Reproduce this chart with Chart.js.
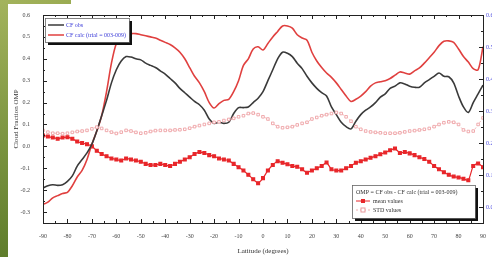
<!DOCTYPE html>
<html>
<head>
<meta charset="utf-8">
<script src="https://cdn.jsdelivr.net/npm/chart.js@4/dist/chart.umd.min.js"></script>
<style>
    html, body { margin: 0; padding: 0; background: #fff; overflow: hidden; width: 492px; height: 257px; }
    .franja-izq { position: absolute; left: 0; top: 0; width: 8px; height: 257px; background: linear-gradient(#a3b35c, #7b9440 55%, #5f7d2c); }
    .franja-sup { position: absolute; left: 0; top: 0; width: 71px; height: 4px; background: linear-gradient(90deg, #a3b35c, #9aab52); }
    #lienzo { position: absolute; left: 0; top: 0; width: 492px; height: 257px; }
</style>
</head>
<body>
<div class="franja-izq"></div>
<div class="franja-sup"></div>
<div id="lienzo"><canvas id="grafica"></canvas></div>
<script>
// latitudes cada 2 grados
const latitudes = [];
for (let lat = -90; lat <= 90; lat += 2) latitudes.push(lat);

const cfObs = [
    -0.19, -0.18, -0.175, -0.178, -0.175, -0.16, -0.135, -0.09, -0.06, -0.03,
    0.01, 0.07, 0.14, 0.21, 0.29, 0.35, 0.39, 0.41, 0.408, 0.40,
    0.395, 0.38, 0.37, 0.36, 0.345, 0.33, 0.31, 0.29, 0.265, 0.245,
    0.225, 0.205, 0.19, 0.165, 0.125, 0.105, 0.11, 0.105, 0.11, 0.15,
    0.177, 0.177, 0.18, 0.20, 0.22, 0.25, 0.30, 0.35, 0.40, 0.43,
    0.425, 0.41, 0.38, 0.355, 0.32, 0.29, 0.265, 0.245, 0.23, 0.18,
    0.145, 0.11, 0.09, 0.08, 0.115, 0.145, 0.165, 0.18, 0.20, 0.225,
    0.24, 0.265, 0.275, 0.29, 0.285, 0.275, 0.27, 0.27, 0.29, 0.305,
    0.32, 0.335, 0.32, 0.318, 0.29, 0.23, 0.18, 0.155, 0.20, 0.24,
    0.28
];
const cfCalc = [
    -0.265, -0.255, -0.235, -0.225, -0.215, -0.21, -0.18, -0.14, -0.11, -0.06,
    0.01, 0.07, 0.14, 0.25, 0.38, 0.47, 0.50, 0.51, 0.515, 0.515,
    0.51, 0.505, 0.50, 0.495, 0.485, 0.475, 0.465, 0.45, 0.43, 0.40,
    0.36, 0.32, 0.29, 0.25, 0.20, 0.175, 0.195, 0.21, 0.215, 0.25,
    0.30, 0.37, 0.40, 0.445, 0.455, 0.44, 0.47, 0.50, 0.525, 0.55,
    0.55, 0.54, 0.51, 0.495, 0.485, 0.43, 0.39, 0.36, 0.335, 0.315,
    0.29, 0.26, 0.23, 0.205, 0.215, 0.23, 0.25, 0.275, 0.29, 0.295,
    0.30, 0.31, 0.325, 0.34, 0.335, 0.33, 0.345, 0.358, 0.38, 0.405,
    0.43, 0.46, 0.48, 0.482, 0.475, 0.445, 0.41, 0.385, 0.355, 0.35,
    0.455
];
const ompMedia = [
    0.05, 0.045, 0.04, 0.035, 0.04, 0.042, 0.035, 0.022, 0.015, 0.01,
    0.0, -0.02, -0.035, -0.045, -0.055, -0.06, -0.065, -0.055, -0.06, -0.065,
    -0.07, -0.08, -0.085, -0.085, -0.08, -0.085, -0.09, -0.08, -0.07, -0.06,
    -0.05, -0.035, -0.026, -0.03, -0.04, -0.045, -0.055, -0.06, -0.065, -0.08,
    -0.095, -0.11, -0.13, -0.15, -0.168, -0.145, -0.11, -0.085, -0.068, -0.075,
    -0.082, -0.09, -0.093, -0.105, -0.12, -0.11, -0.10, -0.09, -0.074, -0.105,
    -0.11, -0.11, -0.10, -0.09, -0.075, -0.068, -0.06, -0.052, -0.045, -0.036,
    -0.028, -0.018, -0.01, -0.03, -0.026, -0.032, -0.04, -0.05, -0.058, -0.07,
    -0.09, -0.105, -0.118, -0.13, -0.138, -0.142, -0.148, -0.155, -0.09, -0.078,
    -0.095
];
const ompStd = [
    0.073, 0.065, 0.06, 0.06, 0.058, 0.06, 0.064, 0.068, 0.07, 0.073,
    0.08, 0.088, 0.082, 0.073, 0.065, 0.059, 0.065, 0.073, 0.07, 0.064,
    0.06, 0.062, 0.068, 0.072, 0.073, 0.073, 0.073, 0.075, 0.076, 0.078,
    0.083, 0.09, 0.095, 0.10, 0.105, 0.11, 0.112, 0.118, 0.123, 0.128,
    0.135, 0.14, 0.15, 0.152, 0.145, 0.135, 0.125, 0.105, 0.09, 0.085,
    0.087, 0.09, 0.098, 0.105, 0.11, 0.125, 0.132, 0.14, 0.145, 0.15,
    0.155, 0.15, 0.135, 0.115, 0.09, 0.078, 0.07, 0.066, 0.064, 0.062,
    0.06, 0.06, 0.06, 0.062, 0.066, 0.07, 0.072, 0.075, 0.078, 0.082,
    0.09, 0.10, 0.108, 0.112, 0.11, 0.10, 0.075, 0.068, 0.07, 0.10,
    0.13
];

const ticksLatitud = [-90, -80, -70, -60, -50, -40, -30, -20, -10, 0, 10, 20, 30, 40, 50, 60, 70, 80, 90];
const ticksIzq = [0.6, 0.5, 0.4, 0.3, 0.2, 0.1, 0.0, -0.1, -0.2, -0.3];
const ticksDer = [0.6, 0.5, 0.4, 0.3, 0.2, 0.1, 0.0];

const fuente = "'Liberation Serif', 'DejaVu Serif', serif";
const colores = {
    obs: "#3a3a3a",
    calc: "#e0403f",
    media: "#e8262a",
    std: "#f0aeb0",
    azul: "#4a4ae0"
};

function puntos(serie) {
    return latitudes.map((lat, i) => ({ x: lat, y: serie[i] }));
}

function fijarTicks(valores) {
    return scale => { scale.ticks = valores.map(v => ({ value: v })); };
}

// marcas hacia adentro, marco del area y etiquetas del eje derecho (cortadas por el borde)
const marcoEjes = {
    id: "marcoEjes",
    afterDatasetsDraw(chart) {
        const ctx = chart.ctx;
        const area = chart.chartArea;
        const sx = chart.scales.x, sy = chart.scales.y, sy2 = chart.scales.y2;
        ctx.save();
        ctx.strokeStyle = "#222";
        ctx.lineWidth = 1;
        ctx.strokeRect(area.left + 0.5, area.top + 0.5, area.right - area.left, area.bottom - area.top);
        ctx.beginPath();
        for (let i = 0; i < ticksLatitud.length; i++) {
            const px = Math.round(sx.getPixelForValue(ticksLatitud[i])) + 0.5;
            ctx.moveTo(px, area.bottom); ctx.lineTo(px, area.bottom - 4);
            ctx.moveTo(px, area.top); ctx.lineTo(px, area.top + 4);
            if (i < ticksLatitud.length - 1) {
                const pm = Math.round(sx.getPixelForValue((ticksLatitud[i] + ticksLatitud[i + 1]) / 2)) + 0.5;
                ctx.moveTo(pm, area.bottom); ctx.lineTo(pm, area.bottom - 2);
                ctx.moveTo(pm, area.top); ctx.lineTo(pm, area.top + 2);
            }
        }
        [[sy, ticksIzq, area.left, 1], [sy2, ticksDer, area.right, -1]].forEach(([escala, valores, borde, dir]) => {
            for (let i = 0; i < valores.length; i++) {
                const py = Math.round(escala.getPixelForValue(valores[i])) + 0.5;
                ctx.moveTo(borde, py); ctx.lineTo(borde + 4 * dir, py);
                if (i < valores.length - 1) {
                    const pm = Math.round(escala.getPixelForValue((valores[i] + valores[i + 1]) / 2)) + 0.5;
                    ctx.moveTo(borde, pm); ctx.lineTo(borde + 2 * dir, pm);
                }
            }
        });
        ctx.stroke();

        ctx.fillStyle = colores.azul;
        ctx.font = `6px ${fuente}`;
        ctx.textAlign = "left";
        ctx.textBaseline = "middle";
        ticksDer.forEach(v => {
            ctx.fillText(v.toFixed(1), area.right + 3, sy2.getPixelForValue(v));
        });
        ctx.restore();
    }
};

function cajaLeyenda(ctx, x, y, w, h) {
    ctx.fillStyle = "#111";
    ctx.fillRect(x + 3, y + 3, w, h);
    ctx.fillStyle = "#fff";
    ctx.fillRect(x, y, w, h);
    ctx.strokeStyle = "#666";
    ctx.lineWidth = 0.8;
    ctx.strokeRect(x + 0.5, y + 0.5, w, h);
}

const leyendas = {
    id: "leyendas",
    afterDraw(chart) {
        const ctx = chart.ctx;
        const area = chart.chartArea;
        ctx.save();
        ctx.font = `6px ${fuente}`;
        ctx.textBaseline = "middle";

        // leyenda superior izquierda
        let x = area.left + 2, y = area.top + 3;
        cajaLeyenda(ctx, x, y, 84, 24);
        ctx.lineWidth = 1.5;
        ctx.strokeStyle = colores.obs;
        ctx.beginPath(); ctx.moveTo(x + 3, y + 7); ctx.lineTo(x + 19, y + 7); ctx.stroke();
        ctx.strokeStyle = colores.calc;
        ctx.beginPath(); ctx.moveTo(x + 3, y + 17); ctx.lineTo(x + 19, y + 17); ctx.stroke();
        ctx.fillStyle = "#3a3ad8";
        ctx.fillText("CF obs", x + 21, y + 7);
        ctx.fillText("CF calc (trial = 003-009)", x + 21, y + 17);

        // leyenda inferior derecha
        x = area.right - 131; y = area.bottom - 38;
        cajaLeyenda(ctx, x, y, 123, 33);
        ctx.fillStyle = "#333";
        ctx.fillText("OMP = CF obs - CF calc (trial = 003-009)", x + 4, y + 7);
        ctx.strokeStyle = colores.media;
        ctx.lineWidth = 1;
        ctx.beginPath(); ctx.moveTo(x + 4, y + 16); ctx.lineTo(x + 18, y + 16); ctx.stroke();
        ctx.fillStyle = colores.media;
        ctx.fillRect(x + 9, y + 14, 4, 4);
        ctx.strokeStyle = colores.std;
        ctx.setLineDash([2, 2]);
        ctx.beginPath(); ctx.moveTo(x + 4, y + 25); ctx.lineTo(x + 18, y + 25); ctx.stroke();
        ctx.setLineDash([]);
        ctx.fillStyle = "#fff";
        ctx.fillRect(x + 9, y + 23, 4, 4);
        ctx.strokeStyle = "#e99a9d";
        ctx.strokeRect(x + 9, y + 23, 4, 4);
        ctx.fillStyle = "#333";
        ctx.fillText("mean values", x + 21, y + 16);
        ctx.fillText("STD values", x + 21, y + 25);
        ctx.restore();
    }
};

new Chart(document.getElementById("grafica"), {
    type: "line",
    data: {
        datasets: [
            {
                label: "STD values",
                data: puntos(ompStd),
                borderColor: colores.std,
                borderWidth: 0.8,
                borderDash: [2, 2],
                pointStyle: "rect",
                pointRadius: 1.8,
                pointBorderWidth: 0.9,
                pointBackgroundColor: "#fff",
                pointBorderColor: "#eea2a5",
                tension: 0.2
            },
            {
                label: "CF obs",
                data: puntos(cfObs),
                borderColor: colores.obs,
                borderWidth: 1.6,
                pointRadius: 0,
                tension: 0.3
            },
            {
                label: "CF calc (trial = 003-009)",
                data: puntos(cfCalc),
                borderColor: colores.calc,
                borderWidth: 1.6,
                pointRadius: 0,
                tension: 0.3
            },
            {
                label: "mean values",
                data: puntos(ompMedia),
                borderColor: colores.media,
                borderWidth: 1.2,
                pointStyle: "rect",
                pointRadius: 2,
                pointBackgroundColor: colores.media,
                pointBorderColor: colores.media,
                tension: 0.2
            }
        ]
    },
    options: {
        responsive: true,
        maintainAspectRatio: false,
        animation: false,
        layout: { padding: { top: 15, left: 0, right: 0, bottom: 0 } },
        plugins: { legend: { display: false }, tooltip: { enabled: false } },
        scales: {
            x: {
                type: "linear",
                min: -90,
                max: 90,
                afterBuildTicks: fijarTicks(ticksLatitud),
                afterFit: scale => { scale.height = 34; },
                grid: { display: false },
                border: { display: false },
                ticks: { color: "#444", padding: 2, maxRotation: 0, font: { family: fuente, size: 6 } },
                title: { display: true, text: "Latitude (degrees)", color: "#333", padding: { top: 0, bottom: 2 }, font: { family: fuente, size: 7 } }
            },
            y: {
                min: -0.35,
                max: 0.6,
                afterBuildTicks: fijarTicks(ticksIzq),
                afterFit: scale => { scale.width = 43; },
                grid: { display: false },
                border: { display: false },
                ticks: { color: "#444", padding: 5, font: { family: fuente, size: 6 }, callback: v => v.toFixed(1) },
                title: { display: true, text: "Cloud Fraction OMP", color: "#333", padding: { top: 12, bottom: 0 }, font: { family: fuente, size: 7 } }
            },
            y2: {
                position: "right",
                min: -0.05,
                max: 0.6,
                afterBuildTicks: fijarTicks(ticksDer),
                afterFit: scale => { scale.width = 9; },
                grid: { display: false },
                border: { display: false },
                ticks: { display: false }
            }
        }
    },
    plugins: [marcoEjes, leyendas]
});
</script>
</body>
</html>
